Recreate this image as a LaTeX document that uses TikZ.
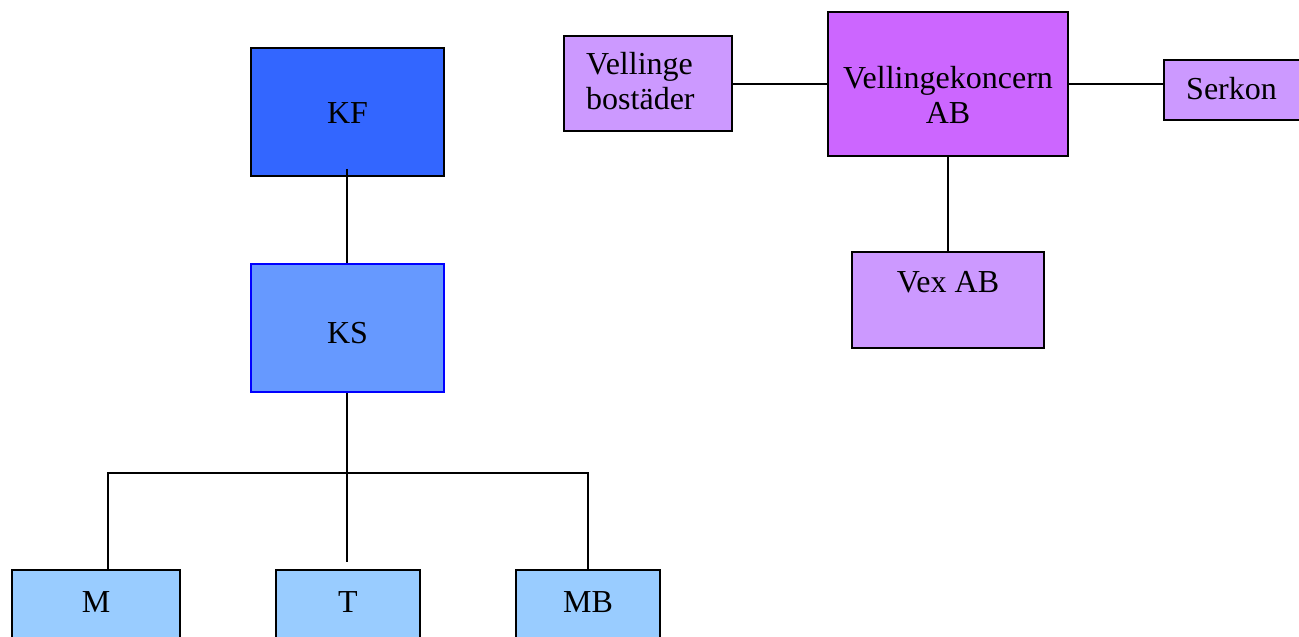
\documentclass[tikz,border=0pt]{standalone}
\usepackage{fontspec}
\setmainfont{Liberation Serif}
\definecolor{kfblue}{HTML}{3366FF}
\definecolor{ksblue}{HTML}{6699FF}
\definecolor{ksborder}{HTML}{0000FF}
\definecolor{lightblue}{HTML}{99CCFF}
\definecolor{violet}{HTML}{CC66FF}
\definecolor{lilac}{HTML}{CC99FF}
\begin{document}
\begin{tikzpicture}[x=1pt,y=-1pt,
  box/.style={draw=black, line width=1.5pt, inner sep=0pt},
  conn/.style={line width=1.6pt, draw=black},
  txt/.style={inner sep=0pt, font=\fontsize{32}{34.5}\selectfont}]
\useasboundingbox (0,0) rectangle (1299,637);
\clip (0,0) rectangle (1299,637);
% left tree
\node[box, fill=kfblue, minimum width=193pt, minimum height=128pt] (KF) at (347.5,112) {};
\node[txt, anchor=base] (KFt) at (347.5,123) {KF};
\node[box, fill=ksblue, draw=ksborder, minimum width=193pt, minimum height=128pt] (KS) at (347.5,328) {};
\node[txt, anchor=base] (KSt) at (347.5,343) {KS};
\node[box, fill=lightblue, minimum width=168pt, minimum height=90pt, anchor=north] (M) at (96,569) {};
\node[txt, anchor=base] (Mt) at (96,612) {M};
\node[box, fill=lightblue, minimum width=144pt, minimum height=90pt, anchor=north] (T) at (348,569) {};
\node[txt, anchor=base] (Tt) at (348,612) {T};
\node[box, fill=lightblue, minimum width=144pt, minimum height=90pt, anchor=north] (MB) at (588,569) {};
\node[txt, anchor=base] (MBt) at (588,612) {MB};
\coordinate (bus) at (347,473);
\coordinate (busL) at (108,473);
\draw[conn] ([yshift=8pt]KF.south -| bus) -- (KS.north -| bus);
\draw[conn] (KS.south -| bus) -- ([yshift=7pt]T.north -| bus);
\draw[conn] (M.north -| busL) -- (busL) -- (bus -| MB.north) -- (MB.north);
% right group
\node[box, fill=lilac, minimum width=168pt, minimum height=95pt] (VB) at (648,83.5) {};
\node[txt, align=left, anchor=base west] (VBt) at (586,109) {Vellinge\\bostäder};
\node[box, fill=violet, minimum width=240pt, minimum height=144pt] (VK) at (948,84) {};
\node[txt, align=center, anchor=base] (VKt) at (948,123) {Vellingekoncern\\AB};
\node[box, fill=lilac, minimum width=160pt, minimum height=60pt, anchor=west] (SK) at (1163,90) {};
\node[txt, anchor=base west] (SKt) at (1186,99) {Serkon};
\node[box, fill=lilac, minimum width=192pt, minimum height=96pt] (VX) at (948,300) {};
\node[txt, anchor=base] (VXt) at (948,292) {Vex AB};
\draw[conn] (VB.east |- VK.west) -- (VK.west);
\draw[conn] (VK.east) -- (VK.east -| SK.west);
\draw[conn] (VK.south) -- (VX.north);
\end{tikzpicture}
\end{document}
